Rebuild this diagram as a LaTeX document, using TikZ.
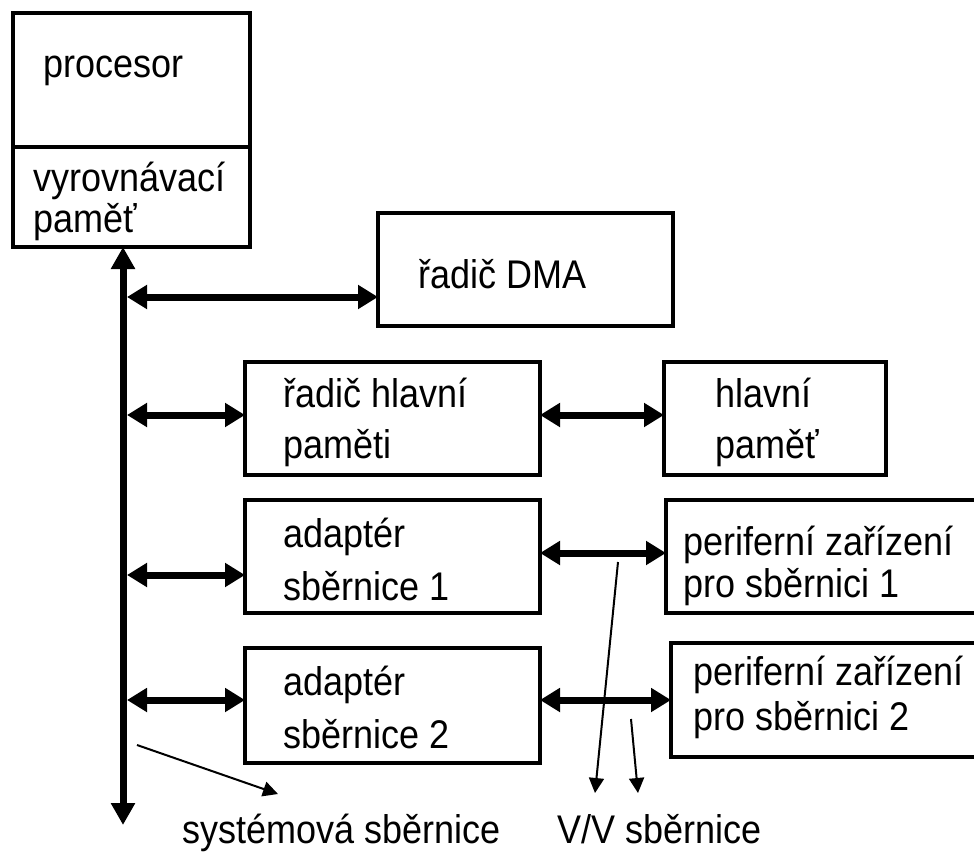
\documentclass[tikz,border=0pt]{standalone}
\usepackage{fontspec}
\setmainfont{Liberation Sans}[FakeStretch=0.9]
\usetikzlibrary{arrows.meta}
\begin{document}
\begin{tikzpicture}[x=1pt,y=-1pt,
  box/.style={draw, line width=3.5pt, anchor=north west, inner sep=0pt, outer sep=0pt},
  % anchored at the baseline of the last line
  txt/.style={anchor=base west, inner sep=0pt, align=left, font=\fontsize{40}{#1}\selectfont},
  dbl/.style={line width=7pt, {Triangle[length=20pt,width=23pt]}-{Triangle[length=20pt,width=23pt]}},
  bus/.style={line width=7pt, {Triangle[length=22pt,width=23pt]}-{Triangle[length=22pt,width=23pt]}},
  thinarrow/.style={line width=2pt, -{Triangle[length=15pt,width=15pt]}}]

\path[clip] (0,0) rectangle (974,853);
\fill[white] (0,0) rectangle (974,853);

% boxes
\node[box, minimum width=237pt, minimum height=134pt] (cpu)   at (13,13)  {};
\node[box, minimum width=237pt, minimum height=100pt] (cache) at (13,147) {};
\node[box, minimum width=295pt, minimum height=113pt] (dma)   at (378,213) {};
\node[box, minimum width=295pt, minimum height=113pt] (rhp)   at (245,362) {};
\node[box, minimum width=222pt, minimum height=113pt] (hp)    at (664,362) {};
\node[box, minimum width=295pt, minimum height=113pt] (ad1)   at (245,500) {};
\node[box, minimum width=295pt, minimum height=115pt] (ad2)   at (245,648) {};
\node[box, minimum width=340pt, minimum height=113pt] (p1)    at (666,500) {};
\node[box, minimum width=340pt, minimum height=114pt] (p2)    at (671,643) {};

% texts
\node[txt=43] (tcpu)   at (43,78)   {procesor};
\node[txt=41] (tcache) at (33,233)  {vyrovnávací\\paměť};
\node[txt=43] (tdma)   at (418,288) {řadič DMA};
\node[txt=51] (trhp)   at (283,458) {řadič hlavní\\paměti};
\node[txt=51] (thp)    at (715,458) {hlavní\\paměť};
\node[txt=53] (tad1)   at (283,600) {adaptér\\sběrnice 1};
\node[txt=53] (tad2)   at (283,748) {adaptér\\sběrnice 2};
\node[txt=42] (tp1)    at (683,597) {periferní zařízení\\pro sběrnici 1};
\node[txt=45] (tp2)    at (693,730) {periferní zařízení\\pro sběrnici 2};
\node[txt=43] (lsys)   at (182,843) {systémová sběrnice};
\node[txt=43] (lio)    at (557,843) {V/V sběrnice};

% system bus
\coordinate (busx) at (123,0);
\coordinate (busend) at (123,825);
\draw[bus] (busx |- cache.south) -- (busend);

% links from the bus
\coordinate (b1) at (127,297);
\coordinate (b2) at (127,415);
\coordinate (b3) at (127,575);
\coordinate (b4) at (127,700);
\draw[dbl] (b1) -- (b1 -| dma.west);
\draw[dbl] (b2) -- (b2 -| rhp.west);
\draw[dbl] (b3) -- (b3 -| ad1.west);
\draw[dbl] (b4) -- (b4 -| ad2.west);

% links on the right
\coordinate (r1) at (0,415);
\coordinate (r2) at (0,553);
\coordinate (r3) at (0,700);
\draw[dbl] (r1 -| rhp.east) -- (r1 -| hp.west);
\draw[dbl] (r2 -| ad1.east) -- (r2 -| p1.west);
\draw[dbl] (r3 -| ad2.east) -- (r3 -| p2.west);

% pointers to the labels
\coordinate (s0) at (137,745);
\coordinate (s1) at (278,794);
\coordinate (v0) at (618,562);
\coordinate (v1) at (595,793);
\coordinate (w0) at (631,719);
\coordinate (w1) at (638,793);
\draw[thinarrow] (s0) -- (s1);
\draw[thinarrow] (v0) -- (v1);
\draw[thinarrow] (w0) -- (w1);
\end{tikzpicture}
\end{document}
